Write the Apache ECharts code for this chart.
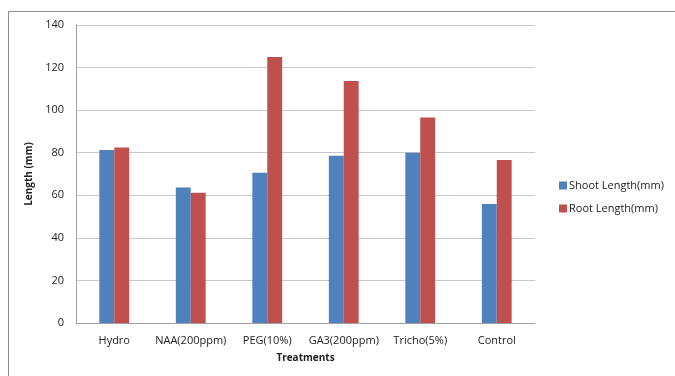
<!DOCTYPE html>
<html>
<head>
<meta charset="utf-8">
<style>
  html, body { margin: 0; padding: 0; background: #fff; overflow: hidden; }
  #chart { width: 675px; height: 376px; }
</style>
<script src="https://cdn.jsdelivr.net/npm/echarts@6/dist/echarts.min.js"></script>
</head>
<body>
<div id="chart"></div>
<script>
// Treatments and measured lengths (mm)
const treatments = ['Hydro', 'NAA(200ppm)', 'PEG(10%)', 'GA3(200ppm)', 'Tricho(5%)', 'Control'];
const shootLength = [81.3, 63.7, 70.6, 78.6, 80.0, 55.9];
const rootLength = [82.4, 61.2, 125.0, 113.7, 96.5, 76.6];
const yTicks = { min: 0, max: 140, interval: 20 };

const font = '"Open Sans", "Liberation Sans", sans-serif';
const chart = echarts.init(document.getElementById('chart'), null, { renderer: 'canvas' });

chart.setOption({
  animation: false,
  backgroundColor: '#ffffff',
  graphic: [
    // outer frame: left and top edges only
    {
      type: 'polyline',
      shape: { points: [[8.5, 400], [8.5, 11.5], [700, 11.5]] },
      style: { fill: 'none', stroke: '#8c8c8c', lineWidth: 1 },
      silent: true
    }
  ],
  grid: { left: 76, right: 140, top: 25, bottom: 53, containLabel: false },
  legend: {
    orient: 'vertical',
    left: 554,
    top: 175,
    itemWidth: 8,
    itemHeight: 8,
    itemGap: 12,
    icon: 'rect',
    textStyle: { fontFamily: font, fontSize: 11, color: '#222', padding: [0, 0, 0, -3] },
    data: ['Shoot Length(mm)', 'Root Length(mm)']
  },
  xAxis: {
    type: 'category',
    data: treatments,
    name: 'Treatments',
    nameLocation: 'middle',
    nameGap: 30,
    nameTextStyle: { fontFamily: font, fontSize: 10, fontWeight: 'bold', color: '#222' },
    axisLine: { lineStyle: { color: '#a0a0a0' } },
    axisTick: { show: false },
    axisLabel: { fontFamily: font, fontSize: 11, color: '#222', margin: 12, interval: 0 }
  },
  yAxis: {
    type: 'value',
    min: yTicks.min,
    max: yTicks.max,
    interval: yTicks.interval,
    name: 'Length (mm)',
    nameLocation: 'middle',
    nameGap: 41,
    nameTextStyle: { fontFamily: font, fontSize: 10, fontWeight: 'bold', color: '#222' },
    axisLine: { show: true, lineStyle: { color: '#a0a0a0' } },
    axisTick: { show: false },
    axisLabel: { fontFamily: font, fontSize: 11, color: '#222', margin: 12 },
    splitLine: { lineStyle: { color: '#c8c8c8' } }
  },
  series: [
    {
      name: 'Shoot Length(mm)',
      type: 'bar',
      data: shootLength,
      barGap: '0%',
      barCategoryGap: '61%',
      itemStyle: { color: '#4F81BD' }
    },
    {
      name: 'Root Length(mm)',
      type: 'bar',
      data: rootLength,
      barGap: '0%',
      barCategoryGap: '61%',
      itemStyle: { color: '#C0504D' }
    }
  ]
});
</script>
</body>
</html>
